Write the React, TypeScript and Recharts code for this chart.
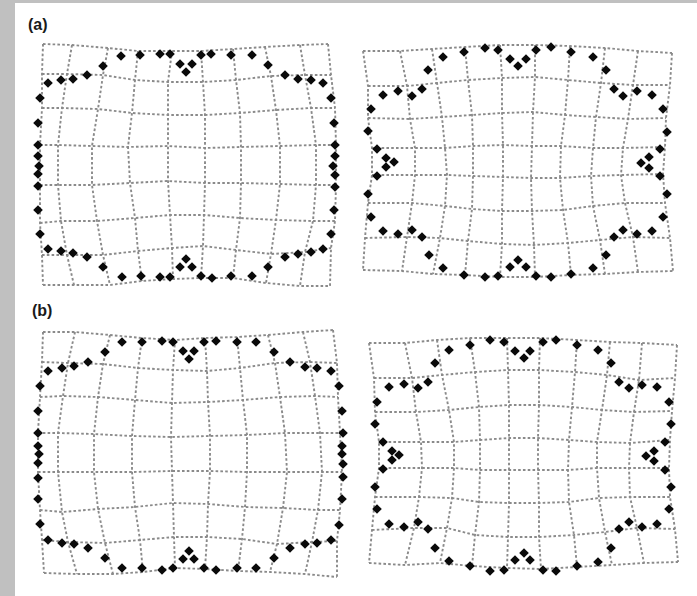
import { ScatterChart, Scatter, XAxis, YAxis } from 'recharts';

type Pt = [number, number];

// distorted mesh nodes, row by row (page pixels)
const aLeftGrid: Pt[][] = [
  [[43, 44], [72, 45], [108, 48], [138, 51], [172, 51], [201, 51], [233, 49], [265, 47], [300, 45], [328, 44]],
  [[42, 74], [67, 74], [103, 75], [135, 80], [168, 82], [203, 82], [236, 80], [271, 76], [305, 75], [331, 75]],
  [[42, 108], [62, 108], [98, 109], [132, 113], [168, 115], [205, 115], [240, 113], [276, 110], [311, 108], [335, 108]],
  [[40, 145], [58, 145], [92, 146], [128, 147], [168, 146], [205, 148], [241, 147], [280, 146], [316, 145], [336, 145]],
  [[40, 185], [58, 185], [92, 185], [130, 183], [168, 181], [205, 183], [241, 183], [280, 184], [316, 185], [336, 185]],
  [[40, 223], [61, 221], [97, 221], [135, 218], [170, 215], [204, 215], [240, 218], [276, 220], [313, 221], [335, 221]],
  [[42, 255], [67, 255], [103, 255], [138, 251], [172, 248], [203, 246], [236, 250], [271, 254], [305, 252], [331, 248]],
  [[43, 285], [74, 285], [110, 285], [142, 281], [173, 279], [201, 278], [233, 278], [266, 283], [300, 286], [330, 286]],
];

const aLeftMarks: Pt[] = [
  [103, 66], [121, 56], [140, 55], [160, 54], [170, 54], [180, 64], [192, 64], [186, 72], [201, 55], [211, 54], [231, 55], [252, 55], [268, 65],
  [48, 83], [61, 80], [73, 79], [87, 75],
  [285, 75], [298, 79], [311, 80], [323, 83],
  [40, 98], [38, 123], [38, 145], [38, 156], [39, 166], [38, 174], [38, 186], [38, 210], [40, 234],
  [331, 98], [334, 123], [335, 145], [335, 156], [333, 166], [335, 175], [335, 187], [334, 210], [331, 234],
  [48, 249], [61, 251], [73, 253], [87, 257],
  [285, 257], [298, 254], [311, 252], [323, 249],
  [103, 267], [122, 277], [141, 276], [160, 277], [170, 277], [180, 267], [192, 267], [186, 259], [201, 276], [212, 278], [231, 276], [252, 276], [268, 267],
];

const aRightGrid: Pt[][] = [
  [[363, 51], [400, 51], [432, 49], [465, 47], [500, 45], [535, 45], [570, 46], [605, 48], [638, 51], [672, 53]],
  [[368, 86], [407, 86], [437, 83], [468, 80], [502, 78], [535, 77], [568, 80], [601, 83], [633, 85], [670, 85]],
  [[368, 118], [410, 119], [442, 117], [472, 115], [502, 113], [533, 112], [565, 115], [596, 117], [628, 119], [666, 118]],
  [[372, 148], [415, 148], [445, 148], [473, 146], [503, 145], [532, 146], [561, 146], [593, 148], [623, 148], [665, 147]],
  [[372, 175], [415, 175], [447, 175], [473, 176], [503, 177], [531, 178], [560, 178], [591, 176], [621, 175], [663, 174]],
  [[368, 203], [412, 203], [445, 206], [472, 209], [502, 211], [532, 211], [563, 210], [593, 206], [625, 203], [665, 203]],
  [[365, 238], [407, 237], [440, 238], [468, 241], [502, 244], [534, 245], [568, 243], [600, 240], [633, 237], [670, 238]],
  [[363, 270], [402, 271], [433, 274], [465, 275], [500, 277], [535, 277], [571, 275], [605, 274], [638, 272], [673, 271]],
];

const aRightMarks: Pt[] = [
  [428, 70], [443, 57], [464, 52], [485, 48], [498, 50], [510, 59], [526, 59], [518, 66], [536, 50], [551, 47], [571, 52], [593, 57], [606, 70],
  [383, 95], [398, 91], [412, 96], [422, 89],
  [614, 89], [623, 96], [637, 91], [652, 95],
  [371, 109], [368, 131], [377, 149], [386, 158], [394, 162], [386, 167], [377, 176], [368, 194], [371, 217],
  [663, 109], [667, 132], [660, 149], [649, 157], [641, 163], [649, 168], [660, 176], [667, 194], [663, 217],
  [383, 231], [398, 234], [412, 230], [422, 237],
  [614, 237], [623, 230], [637, 234], [652, 231],
  [429, 255], [443, 268], [464, 275], [485, 277], [498, 276], [510, 267], [526, 267], [518, 260], [536, 276], [551, 277], [571, 274], [593, 268], [606, 255],
];

const bLeftGrid: Pt[][] = [
  [[43, 332], [75, 332], [110, 335], [142, 338], [175, 340], [205, 338], [237, 337], [268, 335], [303, 332], [333, 330]],
  [[42, 362], [68, 363], [103, 364], [138, 368], [173, 370], [207, 371], [240, 368], [275, 363], [310, 362], [337, 363]],
  [[40, 397], [63, 396], [98, 397], [135, 400], [172, 403], [208, 402], [243, 400], [280, 397], [315, 396], [338, 397]],
  [[38, 433], [58, 433], [94, 434], [132, 436], [171, 437], [210, 436], [247, 435], [285, 433], [320, 433], [340, 433]],
  [[38, 472], [58, 472], [94, 472], [132, 472], [172, 471], [210, 471], [247, 472], [287, 472], [322, 472], [342, 472]],
  [[40, 510], [62, 512], [98, 509], [135, 507], [173, 503], [208, 504], [245, 507], [283, 508], [318, 510], [340, 510]],
  [[42, 540], [68, 542], [105, 543], [140, 540], [174, 537], [207, 537], [242, 539], [277, 544], [312, 542], [337, 541]],
  [[44, 573], [77, 574], [113, 574], [143, 572], [175, 568], [205, 569], [238, 571], [270, 572], [305, 574], [337, 577]],
];

const bLeftMarks: Pt[] = [
  [105, 352], [122, 342], [142, 342], [162, 341], [173, 342], [183, 351], [194, 351], [189, 359], [204, 342], [216, 341], [237, 342], [256, 342], [274, 352],
  [48, 371], [62, 368], [74, 366], [88, 362],
  [290, 362], [305, 367], [317, 368], [331, 371],
  [40, 386], [38, 411], [38, 433], [38, 446], [39, 454], [38, 463], [38, 478], [38, 499], [40, 524],
  [339, 386], [342, 411], [343, 433], [342, 446], [342, 454], [343, 464], [343, 477], [342, 499], [339, 525],
  [48, 540], [62, 543], [74, 544], [88, 548],
  [290, 548], [305, 544], [317, 543], [331, 540],
  [105, 558], [122, 568], [142, 568], [162, 570], [173, 568], [183, 559], [194, 559], [189, 551], [204, 568], [216, 570], [237, 568], [256, 568], [274, 558],
];

const bRightGrid: Pt[][] = [
  [[369, 343], [405, 343], [437, 340], [470, 338], [507, 338], [540, 338], [577, 340], [610, 342], [642, 343], [677, 345]],
  [[374, 378], [412, 378], [442, 375], [475, 372], [508, 370], [539, 370], [575, 372], [607, 375], [639, 380], [675, 378]],
  [[375, 412], [416, 412], [449, 410], [479, 407], [509, 405], [539, 405], [572, 407], [602, 410], [634, 412], [672, 411]],
  [[379, 442], [421, 442], [454, 442], [480, 440], [509, 438], [538, 438], [569, 440], [597, 442], [630, 443], [670, 440]],
  [[379, 468], [422, 468], [454, 468], [480, 470], [509, 470], [538, 470], [568, 470], [597, 468], [629, 468], [669, 468]],
  [[375, 497], [419, 497], [452, 498], [479, 502], [509, 503], [539, 503], [569, 502], [599, 498], [630, 497], [670, 497]],
  [[372, 530], [414, 528], [447, 528], [475, 535], [508, 537], [539, 537], [574, 535], [605, 532], [637, 528], [675, 529]],
  [[369, 563], [405, 565], [440, 563], [472, 566], [507, 568], [541, 569], [577, 567], [612, 565], [644, 563], [678, 562]],
];

const bRightMarks: Pt[] = [
  [435, 363], [449, 350], [470, 345], [490, 340], [504, 342], [515, 351], [530, 351], [524, 358], [543, 342], [556, 340], [577, 345], [598, 350], [611, 363],
  [389, 387], [404, 384], [418, 388], [428, 382],
  [619, 382], [629, 388], [642, 385], [657, 387],
  [377, 402], [375, 424], [383, 442], [392, 451], [399, 455], [392, 460], [383, 469], [375, 487], [377, 509],
  [669, 402], [671, 424], [665, 442], [654, 451], [646, 456], [654, 461], [665, 470], [671, 487], [669, 509],
  [389, 524], [404, 527], [418, 522], [428, 529],
  [619, 529], [629, 522], [642, 527], [657, 524],
  [435, 548], [449, 561], [470, 566], [490, 571], [504, 570], [515, 560], [530, 560], [524, 553], [543, 570], [556, 571], [577, 566], [598, 562], [611, 548],
];

const panelLabels = ['(a)', '(b)'];

const panels = [
  { id: 'aL', grid: aLeftGrid, marks: aLeftMarks },
  { id: 'aR', grid: aRightGrid, marks: aRightMarks },
  { id: 'bL', grid: bLeftGrid, marks: bLeftMarks },
  { id: 'bR', grid: bRightGrid, marks: bRightMarks },
];

const W = 697;
const H = 596;

const toPts = (pts: Pt[]) => pts.map(([x, y]) => ({ x, y }));

// rows as they are, columns by reading the same nodes top to bottom
const meshLines = (grid: Pt[][]) => {
  const rows = grid.map(toPts);
  const cols = grid[0].map((_, c) => toPts(grid.map((r) => r[c])));
  return [...rows, ...cols];
};

const NoDot = () => <g />;

const Diamond = (props: any) => {
  const { cx, cy } = props;
  const r = 4.8;
  return <polygon points={`${cx},${cy - r} ${cx + r},${cy} ${cx},${cy + r} ${cx - r},${cy}`} fill='#0a0a0a' />;
};

const labelStyle = {
  position: 'absolute' as const,
  fontFamily: '"Liberation Sans", Arial, sans-serif',
  fontWeight: 'bold' as const,
  fontSize: 16,
  color: '#1a1a1a',
};

export default function App() {
  return (
    <div style={{ position: 'absolute', left: 0, top: 0, width: W, height: H, background: '#fff', overflow: 'hidden' }}>
      <div style={{ position: 'absolute', left: 0, top: 0, width: 15, height: H, background: '#c0c0c0' }} />
      <div style={{ position: 'absolute', left: 0, top: 0, width: W, height: 3, background: '#c0c0c0' }} />
      <ScatterChart width={W} height={H} margin={{ top: 0, right: 0, bottom: 0, left: 0 }}>
        <XAxis type='number' dataKey='x' domain={[0, W]} hide />
        <YAxis type='number' dataKey='y' domain={[0, H]} reversed hide />
        {panels.map((p) =>
          meshLines(p.grid).map((line, i) => (
            <Scatter
              key={`${p.id}-${i}`}
              data={line}
              line={{ stroke: '#8a8a8a', strokeWidth: 1.9, strokeDasharray: '2.6 2.2' }}
              lineType='joint'
              shape={NoDot}
              isAnimationActive={false}
            />
          ))
        )}
        {panels.map((p) => (
          <Scatter key={`${p.id}-marks`} data={toPts(p.marks)} shape={Diamond} isAnimationActive={false} />
        ))}
      </ScatterChart>
      <div style={{ ...labelStyle, left: 28, top: 16 }}>{panelLabels[0]}</div>
      <div style={{ ...labelStyle, left: 32, top: 302 }}>{panelLabels[1]}</div>
    </div>
  );
}
